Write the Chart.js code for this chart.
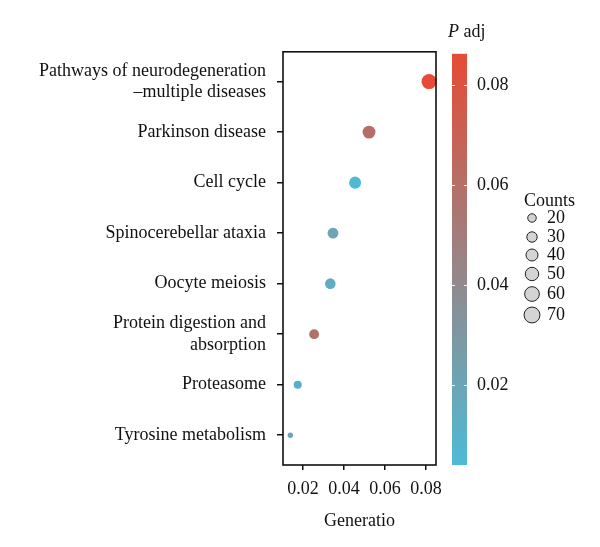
<!DOCTYPE html>
<html>
<head>
<meta charset="utf-8">
<script src="https://cdn.jsdelivr.net/npm/chart.js@4/dist/chart.umd.min.js"></script>
<style>
  html, body { margin: 0; padding: 0; background: #fff; }
  #wrap { width: 600px; height: 547px; }
</style>
</head>
<body>
<div id="wrap"><canvas id="dotChart"></canvas></div>
<script>
const pathways = [
  ["Pathways of neurodegeneration", "\u2013multiple diseases"],
  "Parkinson disease",
  "Cell cycle",
  "Spinocerebellar ataxia",
  "Oocyte meiosis",
  ["Protein digestion and", "absorption"],
  "Proteasome",
  "Tyrosine metabolism"
];
const geneRatio = [0.0815, 0.0522, 0.0454, 0.0346, 0.0333, 0.0254, 0.0174, 0.0138];
const pAdj = [0.086, 0.060, 0.005, 0.020, 0.015, 0.058, 0.011, 0.020];
const counts = [62, 46, 40, 32, 31, 27, 18, 8];

const xTicks = [0.02, 0.04, 0.06, 0.08];
const pTicks = [0.02, 0.04, 0.06, 0.08];
const legendCounts = [20, 30, 40, 50, 60, 70];

const pMin = 0.004, pMax = 0.0863;
const lowColor = [77, 187, 213];
const highColor = [230, 75, 53];
const serif = "'Liberation Serif', 'DejaVu Serif', serif";

function radiusFor(n) {
  return 0.95 * Math.sqrt(n);
}

function colorFor(p) {
  const t = Math.max(0, Math.min(1, (p - pMin) / (pMax - pMin)));
  const c = lowColor.map((v, i) => Math.round(v + t * (highColor[i] - v)));
  return `rgb(${c[0]}, ${c[1]}, ${c[2]})`;
}

const points = geneRatio.map((x, i) => ({ x: x, y: i }));

const extras = {
  id: 'extras',
  afterDraw(chart) {
    const { ctx, chartArea: a } = chart;
    const c = chart.scales.c;
    ctx.save();

    // box round the plot
    ctx.strokeStyle = '#111';
    ctx.lineWidth = 1.6;
    ctx.strokeRect(a.left, a.top, a.right - a.left, a.bottom - a.top);

    // colour bar
    const barX = a.right + 16, barW = 15;
    const top = c.getPixelForValue(pMax);
    const bot = c.getPixelForValue(pMin);
    const g = ctx.createLinearGradient(0, bot, 0, top);
    g.addColorStop(0, colorFor(pMin));
    g.addColorStop(0.5, colorFor((pMin + pMax) / 2));
    g.addColorStop(1, colorFor(pMax));
    ctx.fillStyle = g;
    ctx.fillRect(barX, top, barW, bot - top);
    ctx.strokeStyle = 'rgba(255,255,255,0.9)';
    ctx.lineWidth = 1;
    pTicks.forEach((v) => {
      const y = Math.round(c.getPixelForValue(v)) + 0.5;
      ctx.beginPath();
      ctx.moveTo(barX, y); ctx.lineTo(barX + 3, y);
      ctx.moveTo(barX + barW - 3, y); ctx.lineTo(barX + barW, y);
      ctx.stroke();
    });

    // colour bar title
    ctx.fillStyle = '#111';
    ctx.textBaseline = 'middle';
    ctx.textAlign = 'left';
    ctx.font = `italic 18px ${serif}`;
    ctx.fillText('P', a.right + 12, 32);
    const pw = ctx.measureText('P').width;
    ctx.font = `18px ${serif}`;
    ctx.fillText(' adj', a.right + 12 + pw, 32);

    // size legend
    ctx.fillText('Counts', 524, 201);
    const ys = [218, 237, 255, 274, 294, 315];
    legendCounts.forEach((n, i) => {
      ctx.beginPath();
      ctx.arc(532, ys[i], radiusFor(n), 0, Math.PI * 2);
      ctx.fillStyle = '#d4d4d4';
      ctx.fill();
      ctx.strokeStyle = '#222';
      ctx.lineWidth = 1;
      ctx.stroke();
      ctx.fillStyle = '#111';
      ctx.fillText(String(n), 547, ys[i]);
    });
    ctx.restore();
  }
};

const tickFont = { family: serif, size: 18 };

new Chart(document.getElementById('dotChart'), {
  type: 'scatter',
  data: {
    datasets: [{
      data: points,
      pointRadius: counts.map(radiusFor),
      pointBackgroundColor: pAdj.map(colorFor),
      pointBorderWidth: 0,
      clip: false
    }]
  },
  options: {
    responsive: true,
    maintainAspectRatio: false,
    animation: false,
    layout: { padding: { top: 48, left: 0, right: 0, bottom: 0 } },
    plugins: { legend: { display: false }, tooltip: { enabled: false } },
    scales: {
      x: {
        type: 'linear',
        min: 0.0102,
        max: 0.0849,
        afterBuildTicks: (s) => { s.ticks = xTicks.map((v) => ({ value: v })); },
        afterFit: (s) => { s.height = 82; },
        ticks: { font: tickFont, color: '#111', padding: 8, callback: (v) => v.toFixed(2) },
        grid: { drawOnChartArea: false, drawTicks: true, tickLength: 5, color: '#111', lineWidth: 1.5 },
        border: { display: false },
        title: { display: true, text: 'Generatio', font: tickFont, color: '#111', padding: { top: 0, bottom: 15 } }
      },
      y: {
        type: 'linear',
        reverse: true,
        min: -0.59,
        max: 7.59,
        afterBuildTicks: (s) => { s.ticks = pathways.map((_, i) => ({ value: i })); },
        afterFit: (s) => { s.width = 283; },
        ticks: { font: tickFont, color: '#111', padding: 11, callback: (v) => pathways[v] },
        grid: { drawOnChartArea: false, drawTicks: true, tickLength: 6, color: '#111', lineWidth: 1.5 },
        border: { display: false }
      },
      c: {
        type: 'linear',
        position: 'right',
        min: pMin,
        max: 0.0867,
        afterBuildTicks: (s) => { s.ticks = pTicks.map((v) => ({ value: v })); },
        afterFit: (s) => { s.width = 164; },
        ticks: { font: tickFont, color: '#111', padding: 41, callback: (v) => v.toFixed(2) },
        grid: { display: false, drawTicks: false },
        border: { display: false }
      }
    }
  },
  plugins: [extras]
});
</script>
</body>
</html>
